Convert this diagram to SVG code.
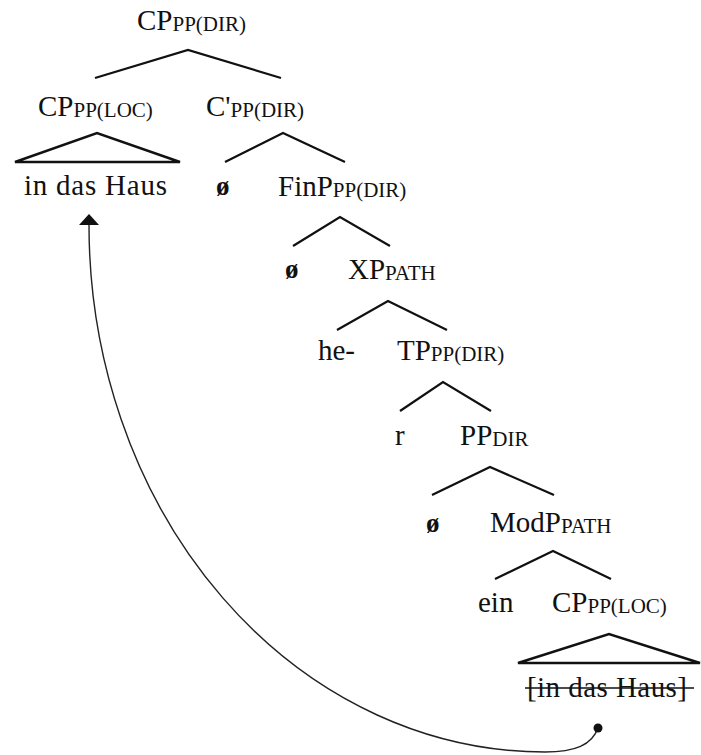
<svg xmlns="http://www.w3.org/2000/svg" width="701" height="755" viewBox="0 0 701 755">
<style>
  .t { font-family: "Liberation Serif", "Times New Roman", serif; font-size: 29px; fill: #111; }
  .s { font-size: 21px; }
  .o { font-family: "Liberation Serif", "Times New Roman", serif; font-size: 27px; font-weight: bold; fill: #111; }
  .br { fill: none; stroke: #111; stroke-width: 2.2; stroke-linejoin: miter; }
  .tri { fill: none; stroke: #111; stroke-width: 2.4; stroke-linejoin: miter; }
  .mv { fill: none; stroke: #222; stroke-width: 1.4; }
</style>
<defs>
  <marker id="arr" markerUnits="userSpaceOnUse" markerWidth="11" markerHeight="21" refX="0" refY="10" orient="auto" viewBox="0 0 11 20">
    <path d="M0,0 L11,10 L0,20 z" fill="#111"/>
  </marker>
</defs>
<rect width="701" height="755" fill="#fff"/>

<g id="connectors">
  <polyline class="br" points="95,78 188,50 281,78"/>
  <polygon class="tri" points="15,162 97,133 180,162"/>
  <polyline class="br" points="225,162 283,133 345,162"/>
  <polyline class="br" points="293,246 340,217 390,246"/>
  <polyline class="br" points="337,330 388,301 447,330"/>
  <polyline class="br" points="400,411 443,382 491,411"/>
  <polyline class="br" points="432,495 490,467 554,495"/>
  <polyline class="br" points="495,579 553,551 611,579"/>
  <polygon class="tri" points="518,663 609,634 700,663"/>
  <path class="mv" d="M598,728 C592,745 575,752 545,752 A456,527 0 0 1 89,225" marker-end="url(#arr)"/>
  <circle cx="598" cy="728" r="4.5" fill="#111"/>
</g>

<g id="n-cp-dir"><text class="t" x="137" y="30">CP<tspan class="s" dy="1">PP(DIR)</tspan></text></g>
<g id="n-cp-loc"><text class="t" x="38" y="116">CP<tspan class="s" dy="1">PP(LOC)</tspan></text></g>
<g id="n-cbar"><text class="t" x="206" y="116">C'<tspan class="s" dy="1">PP(DIR)</tspan></text></g>
<g id="n-haus"><text class="t" x="24" y="195" textLength="143" lengthAdjust="spacing">in das Haus</text></g>
<g id="n-null1"><text class="o" x="216" y="195">ø</text></g>
<g id="n-finp"><text class="t" x="278" y="196">FinP<tspan class="s" dy="1">PP(DIR)</tspan></text></g>
<g id="n-null2"><text class="o" x="285" y="278">ø</text></g>
<g id="n-xp"><text class="t" x="348" y="279">XP<tspan class="s" dy="1">PATH</tspan></text></g>
<g id="n-he"><text class="t" x="318" y="360">he-</text></g>
<g id="n-tp"><text class="t" x="397" y="360">TP<tspan class="s" dy="1">PP(DIR)</tspan></text></g>
<g id="n-r"><text class="t" x="395" y="445">r</text></g>
<g id="n-pp"><text class="t" x="460" y="445">PP<tspan class="s" dy="1">DIR</tspan></text></g>
<g id="n-null3"><text class="o" x="426" y="532">ø</text></g>
<g id="n-modp"><text class="t" x="490" y="532">ModP<tspan class="s" dy="1">PATH</tspan></text></g>
<g id="n-ein"><text class="t" x="478" y="612">ein</text></g>
<g id="n-cp-loc2"><text class="t" x="552" y="612">CP<tspan class="s" dy="1">PP(LOC)</tspan></text></g>
<g id="n-haus2">
  <text class="t" x="527" y="697" textLength="160" lengthAdjust="spacing">[in das Haus]</text>
  <line x1="525" y1="688" x2="694" y2="688" stroke="#111" stroke-width="1.6"/>
</g>
</svg>
